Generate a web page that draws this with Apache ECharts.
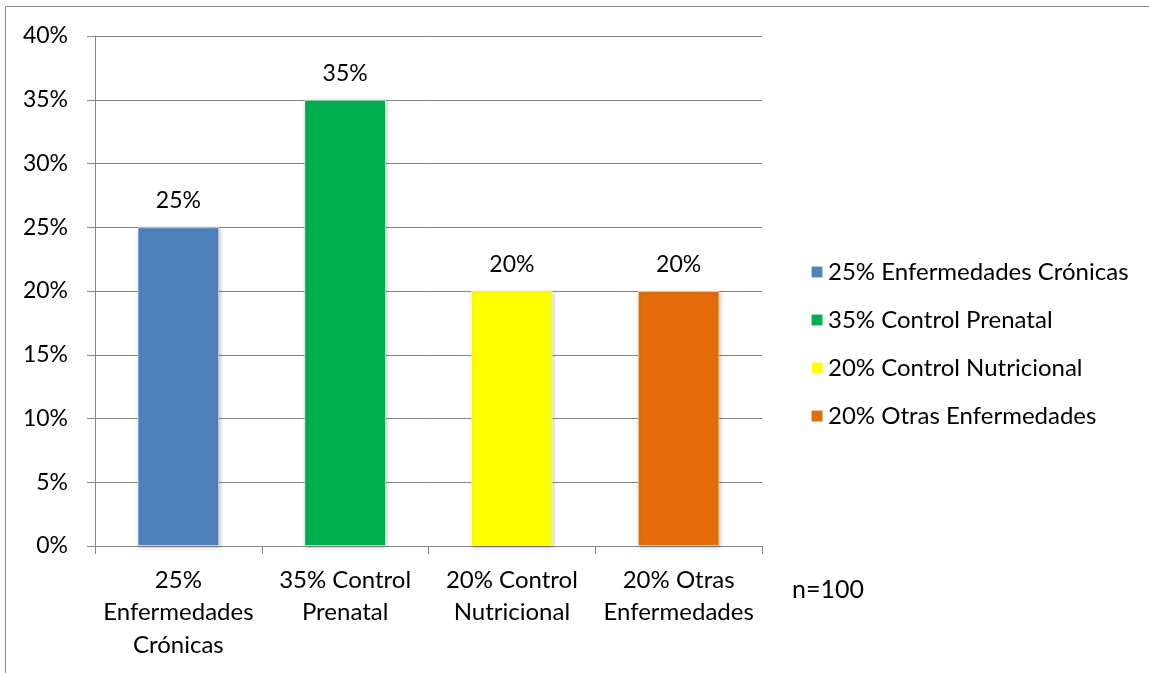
<!DOCTYPE html>
<html>
<head>
<meta charset="utf-8">
<script src="https://cdn.jsdelivr.net/npm/echarts@6/dist/echarts.min.js"></script>
<style>html,body{margin:0;padding:0;background:#fff;}#c{width:1149px;height:673px;}</style>
</head>
<body>
<div id="c"></div>
<script>
const categories = ['25% Enfermedades Crónicas', '35% Control Prenatal', '20% Control Nutricional', '20% Otras Enfermedades'];
const tickLabels = ['25%\nEnfermedades\nCrónicas', '35% Control\nPrenatal', '20% Control\nNutricional', '20% Otras\nEnfermedades'];
const values = [25, 35, 20, 20];
const colors = ['#4F81BD', '#00B050', '#FFFF00', '#E46C0A'];
const yTicks = { min: 0, max: 40, interval: 5 };
const note = 'n=100';

const FONT = 'Lato';
const chart = echarts.init(document.getElementById('c'));
const series = categories.map((name, i) => ({
  name: name,
  type: 'bar',
  stack: 'all',
  barWidth: '49%',
  data: values.map((v, j) => (j === i ? v : null)),
  itemStyle: {
    color: colors[i],
    borderColor: 'rgba(255,255,255,0.6)',
    borderWidth: 1,
    shadowBlur: 4,
    shadowColor: 'rgba(0,0,0,0.25)',
    shadowOffsetX: 1,
    shadowOffsetY: 1
  },
  label: {
    show: true,
    position: 'top',
    distance: 15,
    formatter: p => p.value + '%',
    color: '#000',
    fontFamily: FONT,
    fontSize: 23
  }
}));

chart.setOption({
  animation: false,
  backgroundColor: '#fff',
  textStyle: { fontFamily: FONT },
  grid: { left: 95, right: 387, top: 36, bottom: 127, containLabel: false },
  legend: {
    orient: 'vertical',
    left: 805,
    top: 255,
    icon: 'rect',
    itemWidth: 12,
    itemHeight: 12,
    itemGap: 24,
    textStyle: { color: '#000', fontSize: 24, lineHeight: 24, fontFamily: FONT },
    data: categories
  },
  xAxis: {
    type: 'category',
    data: categories,
    axisLine: { lineStyle: { color: '#868686', width: 1 } },
    axisTick: { show: true, alignWithLabel: false, length: 8, lineStyle: { color: '#868686' } },
    axisLabel: {
      margin: 18,
      color: '#000',
      fontSize: 24,
      fontFamily: FONT,
      lineHeight: 32.5,
      interval: 0,
      formatter: (v, i) => tickLabels[i]
    }
  },
  yAxis: {
    type: 'value',
    min: yTicks.min,
    max: yTicks.max,
    interval: yTicks.interval,
    axisLine: { show: true, lineStyle: { color: '#868686', width: 1 } },
    axisTick: { show: true, length: 8, lineStyle: { color: '#868686' } },
    axisLabel: { margin: 27, color: '#000', fontSize: 23, fontFamily: FONT, formatter: v => v + '%' },
    splitLine: { show: true, lineStyle: { color: '#868686', width: 1 } }
  },
  graphic: [
    { type: 'rect', shape: { x: 5.5, y: 6.5, width: 1200, height: 800 }, style: { fill: 'none', stroke: '#888', lineWidth: 1 }, silent: true },
    { type: 'text', left: 792, top: 577, style: { text: note, fill: '#000', fontSize: 25, fontFamily: FONT } }
  ],
  series: series
});
</script>
</body>
</html>
